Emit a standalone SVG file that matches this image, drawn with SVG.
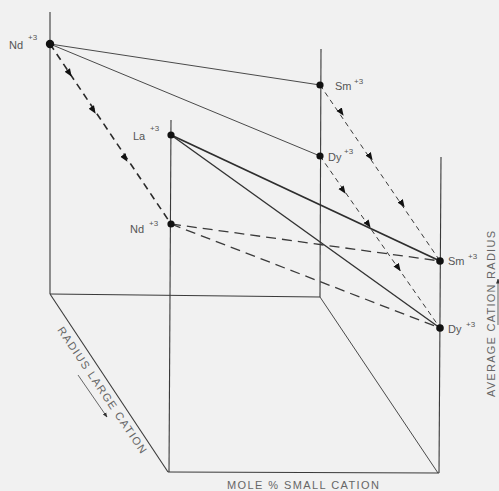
<svg xmlns="http://www.w3.org/2000/svg" width="499" height="491" viewBox="0 0 499 491">
<style>
.axis{stroke:#3a3a3a;stroke-width:1.1;fill:none}
.thin{stroke:#4a4a4a;stroke-width:1;fill:none}
.thick{stroke:#2e2e2e;stroke-width:1.8;fill:none}
.mid{stroke:#333;stroke-width:1.4;fill:none}
.dashL{stroke:#3a3a3a;stroke-width:1.3;fill:none;stroke-dasharray:10 6}
.dashN{stroke:#2a2a2a;stroke-width:1.6;fill:none;stroke-dasharray:7 5}
.dashS{stroke:#3a3a3a;stroke-width:1;fill:none;stroke-dasharray:5 4}
.lbl{font-family:"Liberation Sans",Arial,sans-serif;font-size:11px;fill:#555}
.sup{font-family:"Liberation Sans",Arial,sans-serif;font-size:8px;fill:#555}
.ax{font-family:"Liberation Sans",Arial,sans-serif;font-size:11px;fill:#666}
.dot{fill:#111}
</style>
<defs>
<marker id="ah" viewBox="0 0 10 10" refX="5" refY="5" markerWidth="8" markerHeight="8" orient="auto" markerUnits="userSpaceOnUse">
<path d="M0,1 L10,5 L0,9 z" fill="#111"/>
</marker>
<marker id="ah2" viewBox="0 0 10 10" refX="9" refY="5" markerWidth="5" markerHeight="5" orient="auto" markerUnits="userSpaceOnUse">
<path d="M0,1 L10,5 L0,9 z" fill="#333"/>
</marker>
</defs>
<rect width="499" height="491" fill="#f1f1f1"/>

<g id="frame">
<line class="axis" x1="50" y1="12" x2="50" y2="294"/>
<line class="axis" x1="321" y1="49" x2="320" y2="297"/>
<line class="axis" x1="50" y1="294" x2="320" y2="297"/>
<line class="axis" x1="50" y1="294" x2="168" y2="472"/>
<line class="thin" x1="320" y1="297" x2="438" y2="473"/>
<line class="axis" x1="171" y1="120" x2="169" y2="472"/>
<line class="axis" x1="168" y1="472" x2="439" y2="473"/>
<line class="axis" stroke-width="1.4" x1="441" y1="157" x2="439" y2="473"/>
</g>

<g id="connectors">
<line class="thin" x1="50" y1="44" x2="320" y2="85"/>
<line class="thin" x1="50" y1="44" x2="320" y2="156"/>
<line class="thick" x1="171" y1="135" x2="440" y2="261"/>
<line class="mid" x1="171" y1="135" x2="440" y2="328"/>
<line class="dashL" x1="171" y1="224" x2="440" y2="261"/>
<line class="dashL" x1="171" y1="224" x2="440" y2="328"/>
<line class="dashN" x1="50" y1="44" x2="171" y2="224"/>
<line class="dashS" x1="320" y1="85" x2="440" y2="261"/>
<line class="dashS" x1="320" y1="156" x2="440" y2="328"/>
<path marker-end="url(#ah)" d="M67.3,70 L69.5,73.3" stroke="none" fill="none"/>
<path marker-end="url(#ah)" d="M91.3,107 L93.5,110.3" stroke="none" fill="none"/>
<path marker-end="url(#ah)" d="M123,155 L125.2,158.3" stroke="none" fill="none"/>
<path marker-end="url(#ah)" d="M339.3,109.4 L341.4,112.5" stroke="none" fill="none"/>
<path marker-end="url(#ah)" d="M368.3,154 L370.4,157.1" stroke="none" fill="none"/>
<path marker-end="url(#ah)" d="M400.3,201 L402.4,204.1" stroke="none" fill="none"/>
<path marker-end="url(#ah)" d="M341.3,187.6 L343.3,190.5" stroke="none" fill="none"/>
<path marker-end="url(#ah)" d="M366.3,221.6 L368.3,224.5" stroke="none" fill="none"/>
<path marker-end="url(#ah)" d="M396.4,265.1 L398.4,268" stroke="none" fill="none"/>
</g>

<g id="Nd-back">
<circle class="dot" cx="50" cy="44" r="4.2"/>
<text class="lbl" x="9" y="49">Nd</text><text class="sup" x="28" y="40">+3</text>
</g>
<g id="Sm-back">
<circle class="dot" cx="320" cy="85" r="3.6"/>
<text class="lbl" x="335" y="90">Sm</text><text class="sup" x="354" y="84">+3</text>
</g>
<g id="Dy-back">
<circle class="dot" cx="320" cy="156" r="3.6"/>
<text class="lbl" x="328" y="161">Dy</text><text class="sup" x="344" y="154">+3</text>
</g>
<g id="La-front">
<circle class="dot" cx="171" cy="135" r="3.6"/>
<text class="lbl" x="133" y="140">La</text><text class="sup" x="150" y="131">+3</text>
</g>
<g id="Nd-front">
<circle class="dot" cx="171" cy="224" r="3.6"/>
<text class="lbl" x="130" y="233">Nd</text><text class="sup" x="149" y="226">+3</text>
</g>
<g id="Sm-front">
<circle class="dot" cx="440" cy="261" r="3.8"/>
<text class="lbl" x="448" y="265">Sm</text><text class="sup" x="468" y="259">+3</text>
</g>
<g id="Dy-front">
<circle class="dot" cx="440" cy="328" r="3.8"/>
<text class="lbl" x="448" y="333">Dy</text><text class="sup" x="466" y="327">+3</text>
</g>

<g id="axis-labels">
<text class="ax" transform="translate(57,330) rotate(56)" textLength="150" lengthAdjust="spacing">RADIUS LARGE CATION</text>
<line stroke="#444" stroke-width="0.8" x1="78" y1="375" x2="107" y2="417" marker-end="url(#ah2)"/>
<text class="ax" x="227" y="489" textLength="152" lengthAdjust="spacing">MOLE % SMALL CATION</text>
<text class="ax" transform="translate(495,397) rotate(-90)" textLength="166" lengthAdjust="spacing">AVERAGE CATION RADIUS</text>
<line stroke="#444" stroke-width="0.8" x1="498" y1="325" x2="498" y2="279" marker-end="url(#ah2)"/>
</g>
</svg>
